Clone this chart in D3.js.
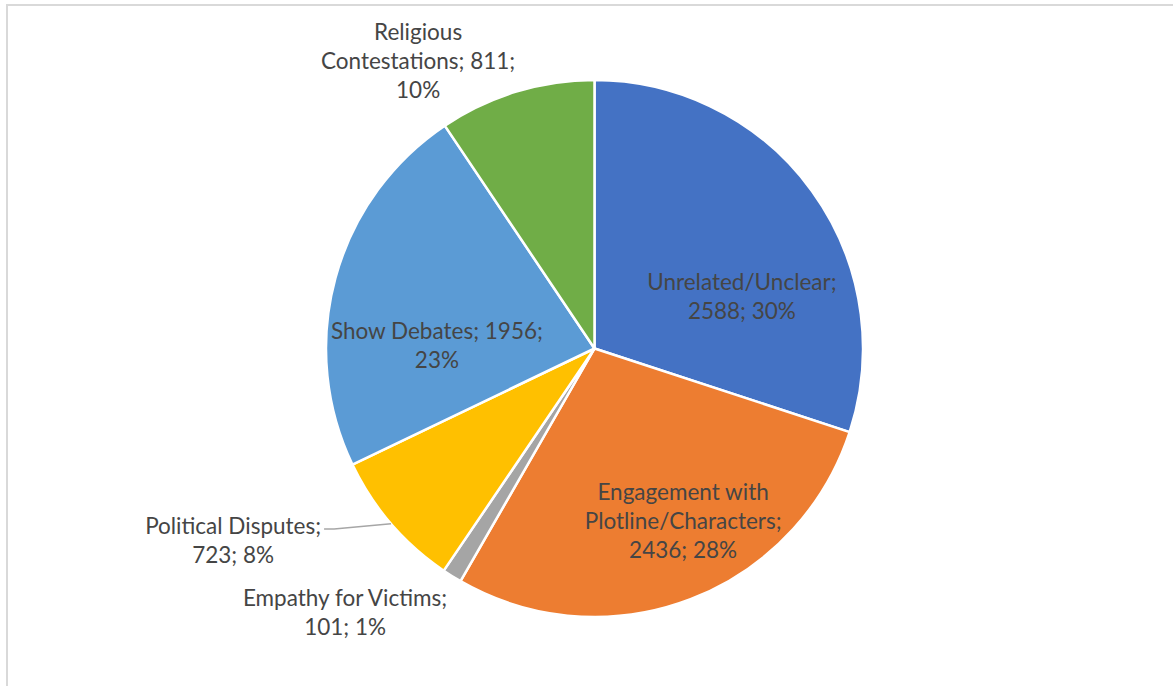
<!DOCTYPE html>
<html>
<head>
<meta charset="utf-8">
<script src="https://cdn.jsdelivr.net/npm/d3@7"></script>
<style>
  body { margin: 0; background: #ffffff; }
  svg { display: block; }
  text { font-family: Lato, "Open Sans", sans-serif; fill: #454545; }
</style>
</head>
<body>
<svg id="chart" width="1173" height="686"></svg>
<script>
// Comment categories and their counts (clockwise from 12 o'clock)
const categories = [
  "Unrelated/Unclear",
  "Engagement with Plotline/Characters",
  "Empathy for Victims",
  "Political Disputes",
  "Show Debates",
  "Religious Contestations"
];
const counts = [2588, 2436, 101, 723, 1956, 811];
// share labels as published (rounded so they add up to 100%)
const percentLabels = ["30%", "28%", "1%", "8%", "23%", "10%"];

// How each data label "Name; count; pct" wraps: segments joined per line
// (tokens: name words, then "#" for the count and "%" for the percentage)
const labelWrap = [
  [["Unrelated/Unclear;"], ["#", "%"]],
  [["Engagement", "with"], ["Plotline/Characters;"], ["#", "%"]],
  [["Empathy", "for", "Victims;"], ["#", "%"]],
  [["Political", "Disputes;"], ["#", "%"]],
  [["Show", "Debates;", "#"], ["%"]],
  [["Religious"], ["Contestations;", "#"], ["%"]]
];

const colors = ["#4472C4", "#ED7D31", "#A5A5A5", "#FFC000", "#5B9BD5", "#70AD47"];

// Layout
const width = 1173, height = 686;
const cx = 594.5, cy = 348.5, radius = 268.5;
// label block centres, in units of the radius relative to the pie centre
const labelOffsets = [
  [0.549, -0.194],
  [0.330, 0.642],
  [-0.929, 0.983],
  [-1.346, 0.717],
  [-0.587, -0.011],
  [-0.657, -1.071]
];
const lineHeight = 29;

const svg = d3.select("#chart");

// chart area frame (top and left edges visible)
svg.append("rect")
  .attr("x", 7).attr("y", 5)
  .attr("width", width + 20).attr("height", height + 20)
  .attr("fill", "#ffffff")
  .attr("stroke", "#D9D9D9")
  .attr("stroke-width", 2);

const data = categories.map((c, i) => ({ name: c, value: counts[i], index: i }));

const pie = d3.pie().sort(null).value(d => d.value);
const arcs = pie(data);
const arc = d3.arc().innerRadius(0).outerRadius(radius);
const outerPoint = d3.arc().innerRadius(radius).outerRadius(radius);

const g = svg.append("g").attr("transform", `translate(${cx},${cy})`);

g.selectAll("path.slice")
  .data(arcs)
  .join("path")
  .attr("class", "slice")
  .attr("d", arc)
  .attr("fill", d => colors[d.data.index])
  .attr("stroke", "#ffffff")
  .attr("stroke-width", 2.5)
  .attr("stroke-linejoin", "round");

// build the label lines from the data values
function labelLinesFor(d) {
  const i = d.data.index;
  return labelWrap[i].map(seg => seg.map(tok =>
    tok === "#" ? d.data.value + ";" : tok === "%" ? percentLabels[i] : tok
  ).join(" "));
}

const labels = g.selectAll("text.label")
  .data(arcs)
  .join("text")
  .attr("class", "label")
  .attr("text-anchor", "middle")
  .attr("font-size", 22.5);

labels.each(function(d) {
  const i = d.data.index;
  const lines = labelLinesFor(d);
  const lx = labelOffsets[i][0] * radius;
  const ly = labelOffsets[i][1] * radius;
  const top = ly - (lines.length - 1) * lineHeight / 2;
  const t = d3.select(this);
  lines.forEach((ln, k) => {
    t.append("tspan")
      .attr("x", lx)
      .attr("y", top + k * lineHeight)
      .attr("dy", "0.35em")
      .text(ln);
  });
});

// leader line for the Political Disputes label
const pol = arcs[3];
const tip = outerPoint.centroid(pol);
const firstLine = labels.filter(d => d.data.index === 3).select("tspan").node();
const bb = firstLine.getBBox();
const startX = bb.x + bb.width + 3;
const startY = bb.y + bb.height / 2 + 3;
g.append("path")
  .attr("d", d3.line()([[startX, startY], [startX + 10, startY], [tip[0], tip[1]]]))
  .attr("fill", "none")
  .attr("stroke", "#A6A6A6")
  .attr("stroke-width", 1.5);
</script>
</body>
</html>
